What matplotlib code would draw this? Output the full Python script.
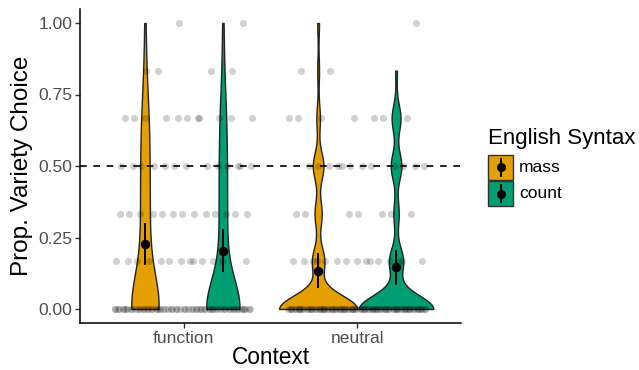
import numpy as np
import matplotlib.pyplot as plt
from matplotlib.patches import Rectangle
from matplotlib.lines import Line2D

plt.rcParams['font.family'] = ['Liberation Sans', 'DejaVu Sans']

# Datos: numero de respuestas en cada nivel (proporciones en sextos)
niveles = [0, 1/6, 1/3, 1/2, 2/3, 5/6, 1]
contextos = ["function", "neutral"]
sintaxis = ["mass", "count"]
colores = ["#E69F00", "#009E73"]

func_mass = [30, 7, 7, 7, 6, 2, 1]
func_count = [33, 6, 6, 6, 5, 2, 1]
neut_mass = [44, 7, 4, 6, 2, 1, 1]
neut_count = [42, 8, 3, 6, 5, 1, 0]

grupos = [[func_mass, func_count], [neut_mass, neut_count]]


def bw_nrd0(x):
    hi = np.std(x, ddof=1)
    iqr = np.percentile(x, 75) - np.percentile(x, 25)
    lo = min(hi, iqr / 1.34)
    if lo == 0:
        lo = hi
    return 0.9 * lo * len(x) ** (-0.2)


def densidad(x):
    bw = bw_nrd0(x)
    y = np.linspace(x.min(), x.max(), 512)
    d = np.exp(-0.5 * ((y[:, None] - x[None, :]) / bw) ** 2).sum(axis=1)
    d = d / (len(x) * bw * np.sqrt(2 * np.pi))
    return y, d


# Calculamos las densidades de todos los grupos
datos = [[np.repeat(niveles, c) for c in g] for g in grupos]
dens = [[densidad(x) for x in g] for g in datos]
dmax = max(d.max() for g in dens for _, d in g)

fig = plt.figure(figsize=(6.39, 3.70), dpi=100)
ax = fig.add_axes([80/639, 1 - 323.3/370, 381/639, 314.6/370])

dodge = 0.225
for i, g in enumerate(datos):
    for j, x in enumerate(g):
        xc = i + 1 + (j * 2 - 1) * dodge
        y, d = dens[i][j]
        w = dodge * d / dmax
        ax.fill_betweenx(y, xc - w, xc + w, facecolor=colores[j],
                         edgecolor="#222222", linewidth=1.0, zorder=2)

# Linea de referencia
ax.axhline(0.5, color="black", linestyle=(0, (4, 4)), linewidth=1.2, zorder=3)

# Puntos con jitter determinista
phi = (np.sqrt(5) - 1) / 2
for i, g in enumerate(datos):
    todos = np.concatenate(g)
    k = np.arange(len(todos))
    off = ((k * phi + 0.37 * i) % 1 - 0.5) * 0.8
    ax.scatter(i + 1 + off, todos, s=26, color="black", alpha=0.18,
               linewidths=0, zorder=4)

# Media e intervalo
for i, g in enumerate(datos):
    for j, x in enumerate(g):
        xc = i + 1 + (j * 2 - 1) * dodge
        m = x.mean()
        ci = 1.96 * x.std(ddof=1) / np.sqrt(len(x))
        ax.plot([xc, xc], [m - ci, m + ci], color="black", linewidth=1.4, zorder=5)
        ax.scatter([xc], [m], s=34, color="black", zorder=6)

ax.set_xlim(0.4, 2.6)
ax.set_ylim(-0.05, 1.05)
ax.set_xticks([1, 2])
ax.set_xticklabels(contextos)
ax.set_yticks([0, 0.25, 0.5, 0.75, 1.0])
ax.set_yticklabels(["0.00", "0.25", "0.50", "0.75", "1.00"])
for s in ["top", "right"]:
    ax.spines[s].set_visible(False)
for s in ["left", "bottom"]:
    ax.spines[s].set_linewidth(1.1)
ax.tick_params(length=3.5, width=1.0, color="#333333", labelcolor="#4D4D4D",
               labelsize=12.6, pad=2)
ax.set_xlabel("Context", fontsize=16.3, labelpad=0)
ax.set_ylabel("Prop. Variety Choice", fontsize=17.5, labelpad=4)

# Leyenda a mano
fig.text(488/639, 1 - 139/370, "English Syntax", fontsize=16, va="center", ha="left")
for j, lab in enumerate(sintaxis):
    y0 = 155 + j * 26
    fig.add_artist(Rectangle((488/639, 1 - (y0 + 25)/370), 25/639, 25/370,
                             facecolor=colores[j], edgecolor="#333333",
                             linewidth=1.0, transform=fig.transFigure))
    xm = 500.5/639
    fig.add_artist(Line2D([xm, xm], [1 - (y0 + 4)/370, 1 - (y0 + 21)/370],
                          color="black", linewidth=1.4, transform=fig.transFigure))
    fig.add_artist(Line2D([xm], [1 - (y0 + 12.5)/370], marker="o", markersize=5.5,
                          color="black", transform=fig.transFigure))
    fig.text(519/639, 1 - (y0 + 12.5)/370, lab, fontsize=12.5, va="center", ha="left")

plt.savefig("out.png", dpi=100)
